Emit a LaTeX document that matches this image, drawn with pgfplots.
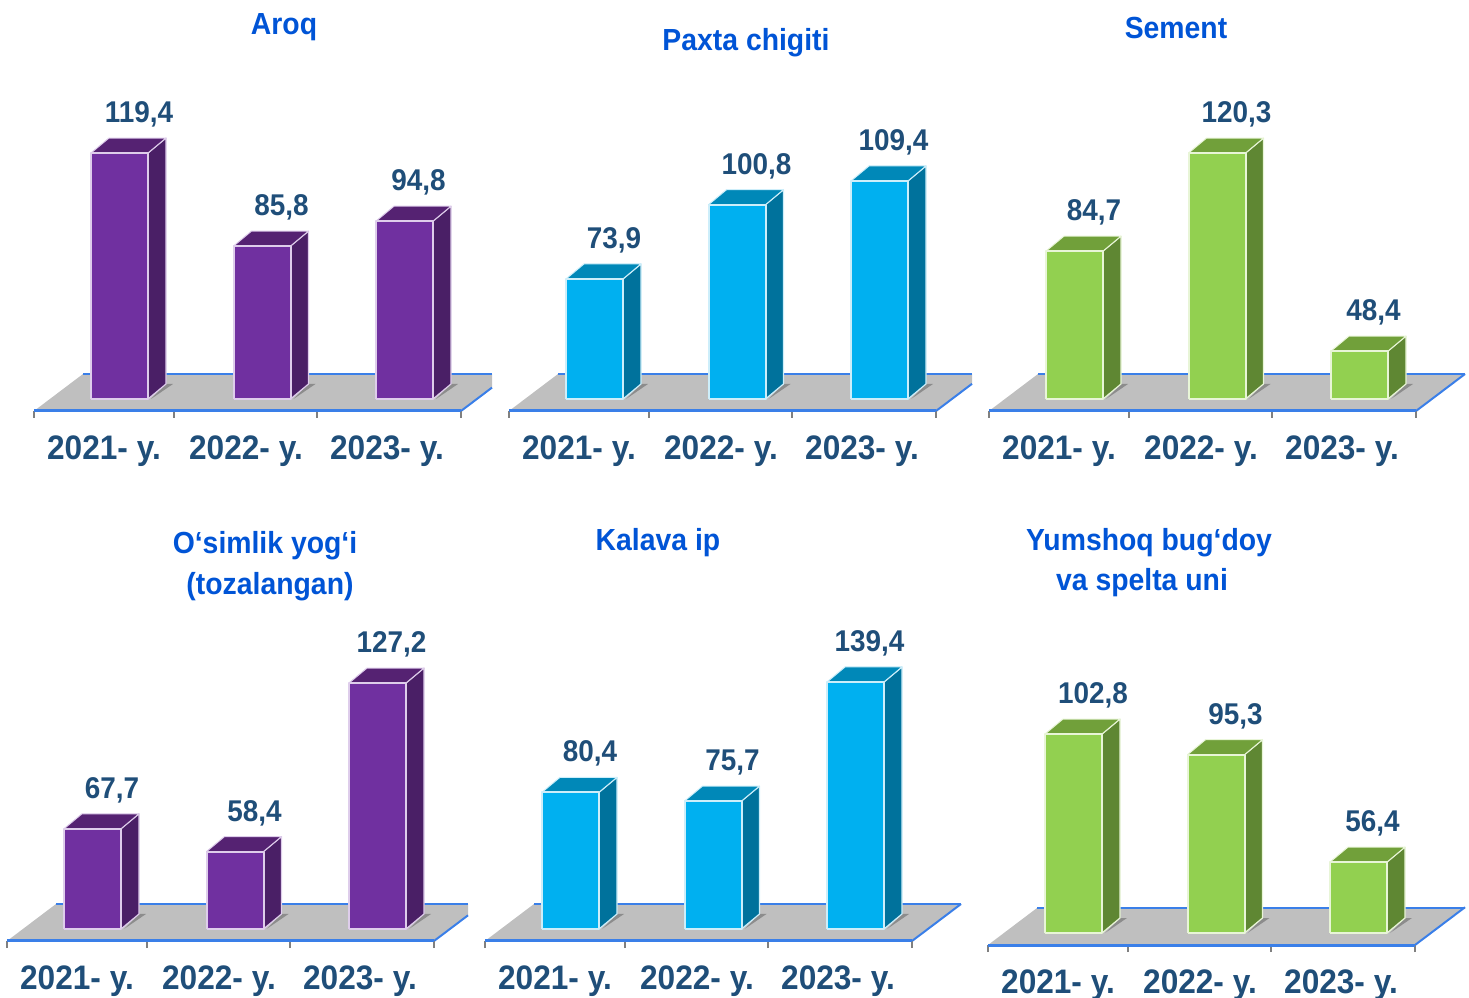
\documentclass[border=0pt]{standalone}
\usepackage{fontspec}
\setmainfont{Liberation Sans}[FakeStretch=0.93]
\usepackage{pgfplots}
\pgfplotsset{compat=1.18}

\definecolor{txtdark}{RGB}{31,78,121}
\definecolor{titleblue}{RGB}{0,84,214}
\definecolor{floorgrey}{RGB}{191,191,191}
\definecolor{floorline}{RGB}{58,127,232}
\definecolor{shadowgrey}{RGB}{140,140,140}
\definecolor{purpleF}{RGB}{112,48,160}
\definecolor{purpleS}{RGB}{74,31,102}
\definecolor{purpleT}{RGB}{85,34,114}
\definecolor{purpleE}{RGB}{222,205,235}
\definecolor{cyanF}{RGB}{0,176,240}
\definecolor{cyanS}{RGB}{0,114,156}
\definecolor{cyanT}{RGB}{0,136,184}
\definecolor{cyanE}{RGB}{205,238,250}
\definecolor{greenF}{RGB}{146,208,80}
\definecolor{greenS}{RGB}{95,135,51}
\definecolor{greenT}{RGB}{113,160,58}
\definecolor{greenE}{RGB}{232,245,215}

% one 3d bar: left edge (px from floor corner), value, colour prefix, label offset
\newcommand{\threedbar}[4]{%
  \pgfmathsetmacro\xr{#1+57}%
  \pgfmathsetmacro\xb{#1+18}%
  \pgfmathsetmacro\xbr{#1+75}%
  \pgfmathsetmacro\vt{#2+\dy}%
  \pgfmathsetmacro\vbb{\vb+\dy}%
  \pgfmathsetmacro\xsh{#1+82}%
  \pgfmathsetmacro\xsa{#1+60}%
  \addplot[fill=shadowgrey,draw=none] coordinates {(\xsa,\vb)(\xbr,\vbb)(\xsh,\vbb)(\xsa,\vb)};
  \addplot[fill=#3S,draw=#3E,line width=1.2pt,line join=round] coordinates {(\xr,\vb)(\xr,#2)(\xbr,\vt)(\xbr,\vbb)(\xr,\vb)};
  \addplot[fill=#3T,draw=#3E,line width=1pt,line join=round] coordinates {(#1,#2)(\xb,\vt)(\xbr,\vt)(\xr,#2)(#1,#2)};
  \addplot[fill=#3F,draw=#3E,line width=2pt,line join=round] coordinates {(#1,\vb)(#1,#2)(\xr,#2)(\xr,\vb)(#1,\vb)};
  \node[font=\fontsize{30}{31}\selectfont\bfseries,text=txtdark,yshift=38.5pt] at (axis cs:#1+#4,#2)
    {\pgfmathprintnumber[fixed,fixed zerofill,precision=1,use comma,assume math mode=true]{#2}};
}

% floor corner x, floor front y (px), px per unit, baseline value, right crop, colour, values
\newcommand{\panel}[9]{%
  \pgfmathsetmacro\ymn{#4-12/#3}%
  \pgfmathsetmacro\ymx{\ymn+300/#3}%
  \pgfmathsetmacro\vb{#4}%
  \pgfmathsetmacro\dy{15/#3}%
  \pgfmathsetmacro\ybk{\ymn+37/#3}%
  \pgfmathsetmacro\ycr{\ymn+(#5-427)*37/49/#3}%
  \begin{axis}[
    at={({#1*1pt},{(998-#2)*1pt})}, anchor=south west,
    scale only axis, width=427pt, height=300pt,
    xmin=0, xmax=427, ymin=\ymn, ymax=\ymx,
    clip=false, axis on top,
    axis x line=bottom, axis y line=none,
    axis line style={draw=floorline,line width=3pt,-},
    xtick={70,212,353}, xticklabels={2021- y.,2022- y.,2023- y.},
    minor xtick={0,140,283,427},
    major tick length=0pt, minor tick length=7pt, tick align=outside,
    minor tick style={draw=gray,line width=1.5pt},
    xticklabel style={font=\fontsize{34}{35}\selectfont\bfseries,text=txtdark,anchor=center,yshift=-40pt},
  ]
    \addplot[fill=floorgrey,draw=none] coordinates {(0,\ymn)(427,\ymn)(#5,\ycr)(#5,\ybk)(49,\ybk)(0,\ymn)};
    \addplot[floorline,line width=2pt] coordinates {(49,\ybk)(#5,\ybk)};
    \addplot[floorline,line width=2pt] coordinates {(427,\ymn)(#5,\ycr)};
    \threedbar{57}{#7}{#6}{48}
    \threedbar{199.5}{#8}{#6}{48}
    \threedbar{342}{#9}{#6}{42.5}
  \end{axis}
}

\begin{document}
\begin{tikzpicture}[x=1pt,y=1pt]
  \path[use as bounding box] (0,0) rectangle (1469,998);
  \panel{34}{411}{2.77}{30.6}{458}{purple}{119.4}{85.8}{94.8}
  \panel{509}{411}{2.76}{30.4}{463}{cyan}{73.9}{100.8}{109.4}
  \panel{989}{411}{2.754}{31}{476}{green}{84.7}{120.3}{48.4}
  \panel{7}{941}{2.45}{26.8}{461}{purple}{67.7}{58.4}{127.2}
  \panel{485}{941}{1.87}{7.3}{476}{cyan}{80.4}{75.7}{139.4}
  \panel{988}{945}{2.76}{30.7}{477}{green}{102.8}{95.3}{56.4}
  \tikzset{ttl/.style={font=\fontsize{30.5}{32}\selectfont\bfseries,text=titleblue,anchor=center}}
  \node[ttl] at (284,971) {Aroq};
  \node[ttl] at (746,955) {Paxta chigiti};
  \node[ttl] at (1176,970) {Sement};
  \node[ttl] at (265,452) {O‘simlik yog‘i};
  \node[ttl] at (270,411.5) {(tozalangan)};
  \node[ttl] at (658,455) {Kalava ip};
  \node[ttl] at (1149,455) {Yumshoq bug‘doy};
  \node[ttl] at (1142,415) {va spelta uni};
\end{tikzpicture}
\end{document}
